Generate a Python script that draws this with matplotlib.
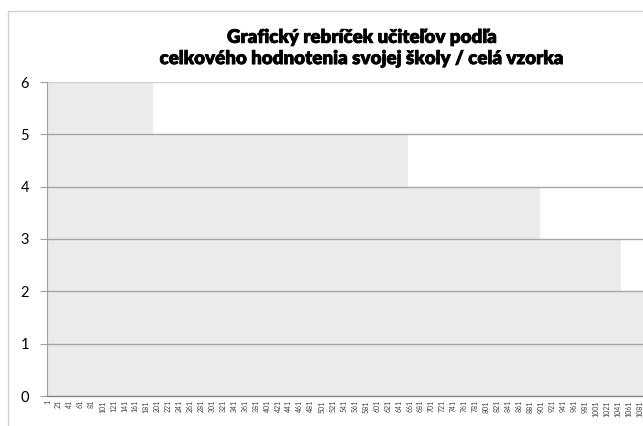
import numpy as np
import matplotlib
matplotlib.use("Agg")
import matplotlib.pyplot as plt
from matplotlib.patches import Rectangle
import matplotlib.patheffects as pe

plt.rcParams['font.family'] = ['Lato', 'DejaVu Sans']

# Data: run-length description of the ranked values
levels = [6, 5, 4, 3, 2]
counts = [193, 464, 242, 146, 55]
title = "Grafický rebríček učiteľov podľa\ncelkového hodnotenia svojej školy / celá vzorka"
yticks = [0, 1, 2, 3, 4, 5, 6]

values = np.repeat(levels, counts)
n = len(values)
x = np.arange(1, n + 1)
xtick_pos = list(range(1, n + 1, 20))
xtick_labels = [str(v) for v in xtick_pos]

W, H = 643, 426
fig = plt.figure(figsize=(W / 100, H / 100), dpi=100)

# chart frame
fig.patches.append(Rectangle((8 / W, -0.1), 1.2, 1.1 - 11 / H,
                             transform=fig.transFigure, fill=False,
                             edgecolor='#d0d0d0', linewidth=1.0, zorder=0))

px_per_bar = 0.5486
left_px, bottom_px, top_px = 47.3, 396, 82
right_px = left_px + n * px_per_bar
ax = fig.add_axes([left_px / W, (H - bottom_px) / H,
                   (right_px - left_px) / W, (bottom_px - top_px) / H])

ax.bar(x, values, width=1.0, color='#ebebeb', linewidth=0, zorder=1,
       antialiased=False)

ax.set_xlim(0.5, n + 0.5)
ax.set_ylim(0, 6)
ax.set_yticks(yticks)
ax.set_yticklabels([str(v) for v in yticks], fontsize=10.5, color='#000000')
ax.set_xticks(xtick_pos)
ax.set_xticklabels(xtick_labels, rotation=90, fontsize=5, color='#404040')
ax.tick_params(axis='x', length=0, pad=3)
ax.tick_params(axis='y', length=5, width=0.8, color='#a0a0a0', pad=8)

for v in yticks[1:]:
    ax.axhline(v, color='#a6a6a6' if v < 6 else '#d0d0d0', linewidth=1.0, zorder=2)

for s in ['top', 'right']:
    ax.spines[s].set_visible(False)
ax.spines['left'].set_color('#a0a0a0')
ax.spines['left'].set_linewidth(0.8)
ax.spines['bottom'].set_color('#888888')
ax.spines['bottom'].set_linewidth(1.0)
ax.spines['left'].set_zorder(3)
ax.spines['bottom'].set_zorder(3)

t = fig.text(362 / W, 1 - 48 / H, title, ha='center', va='center',
             fontsize=13.5, fontweight='heavy', linespacing=1.3)
t.set_path_effects([pe.withStroke(linewidth=0.5, foreground='black')])

fig.savefig('out.png', dpi=100)
